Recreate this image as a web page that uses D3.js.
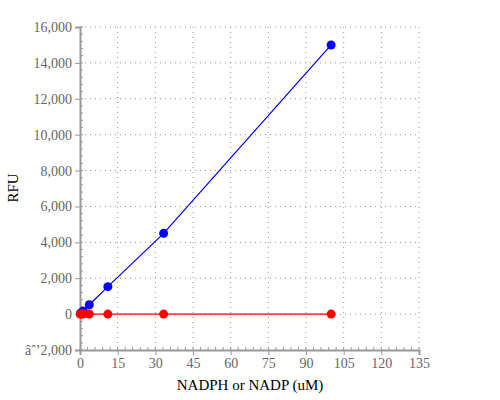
<!DOCTYPE html>
<html><head><script src="https://cdn.jsdelivr.net/npm/d3@7"></script>
<style>body{margin:0;background:#fff}text{font-family:"Liberation Serif",serif}</style></head>
<body><svg id="vis" width="500" height="400"></svg>
<script>
const xNadph = [0.14, 0.41, 1.23, 3.7, 11.1, 33.3, 100];
const yNadph = [20, 60, 180, 520, 1530, 4500, 15000];
const xNadp = [0.14, 0.41, 1.23, 3.7, 11.1, 33.3, 100];
const yNadp = [0, 0, 0, 0, 0, 0, 0];
const xTicks = d3.range(0, 136, 15);
const yTicks = d3.range(-2000, 16001, 2000);

const svg = d3.select("#vis");
const x = d3.scaleLinear().domain([0, 135]).range([80, 419]);
const y = d3.scaleLinear().domain([-2000, 16000]).range([350, 27]);

// dotted grid
svg.append("g").selectAll("line").data(xTicks.slice(1)).enter().append("line")
  .attr("x1", d => x(d)).attr("x2", d => x(d)).attr("y1", 27).attr("y2", 350)
  .attr("stroke", "#999").attr("stroke-dasharray", "1,4");
svg.append("g").selectAll("line").data(yTicks.slice(1)).enter().append("line")
  .attr("x1", 80).attr("x2", 419).attr("y1", d => y(d)).attr("y2", d => y(d))
  .attr("stroke", "#999").attr("stroke-dasharray", "1,4");

// minor ticks
svg.append("g").selectAll("line").data(d3.range(-2000, 16001, 400)).enter().append("line")
  .attr("x1", 80).attr("x2", 83).attr("y1", d => y(d)).attr("y2", d => y(d)).attr("stroke", "#999");
svg.append("g").selectAll("line").data(d3.range(0, 136, 3)).enter().append("line")
  .attr("y1", 350).attr("y2", 347).attr("x1", d => x(d)).attr("x2", d => x(d)).attr("stroke", "#999");

const xa = svg.append("g").attr("transform", "translate(0,350)")
  .call(d3.axisBottom(x).tickValues(xTicks).tickSize(5).tickPadding(3));
const ya = svg.append("g").attr("transform", "translate(80,0)")
  .call(d3.axisLeft(y).tickValues(yTicks).tickSize(5).tickPadding(3));
[xa, ya].forEach(a => {
  a.select(".domain").attr("stroke", "#999").attr("stroke-width", 2);
  a.selectAll(".tick line").attr("stroke", "#999");
  a.selectAll("text").attr("fill", "#666").style("font-size", "14px").style("font-family", "Liberation Serif");
});

svg.append("text").attr("x", 250).attr("y", 390).attr("text-anchor", "middle")
  .style("font-size", "15px").text("NADPH or NADP (uM)");
svg.append("text").attr("transform", "translate(18,188) rotate(-90)").attr("text-anchor", "middle")
  .style("font-size", "15px").text("RFU");

function series(xs, ys, color) {
  const pts = xs.map((d, i) => [d, ys[i]]);
  svg.append("path").datum(pts).attr("fill", "none").attr("stroke", color).attr("stroke-width", 1.2)
    .attr("d", d3.line().x(d => x(d[0])).y(d => y(d[1])));
  svg.append("g").selectAll("circle").data(pts).enter().append("circle")
    .attr("cx", d => x(d[0])).attr("cy", d => y(d[1])).attr("r", 4.5).attr("fill", color);
}
series(xNadph, yNadph, "blue");
series(xNadp, yNadp, "red");
</script></body></html>
